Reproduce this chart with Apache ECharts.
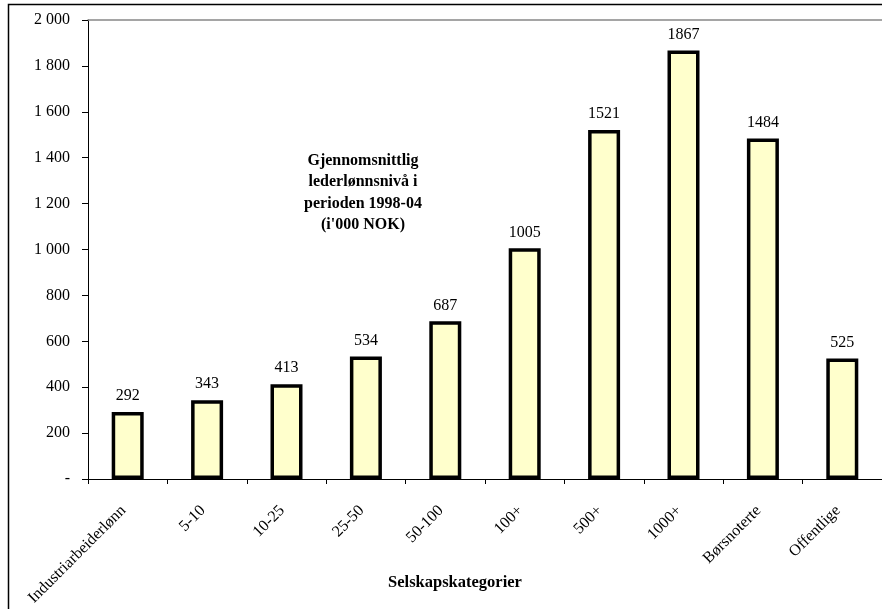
<!DOCTYPE html>
<html>
<head>
<meta charset="utf-8">
<script src="https://cdn.jsdelivr.net/npm/echarts@6/dist/echarts.min.js"></script>
<style>
  html, body { margin: 0; padding: 0; background: #fff; }
  #chart { width: 882px; height: 609px; }
</style>
</head>
<body>
<div id="chart"></div>
<script>
// Selskapskategorier og gjennomsnittlig lederlønn (i'000 NOK)
const categories = ['Industriarbeiderlønn', '5-10', '10-25', '25-50', '50-100', '100+', '500+', '1000+', 'Børsnoterte', 'Offentlige'];
const values = [292, 343, 413, 534, 687, 1005, 1521, 1867, 1484, 525];
const yTicks = { min: 0, max: 2000, interval: 200 };
const noteLines = ['Gjennomsnittlig', 'lederlønnsnivå i', 'perioden 1998-04', "(i'000 NOK)"];
const axisTitle = 'Selskapskategorier';

const serif = '"Liberation Serif", "Times New Roman", serif';

function fmtThousands(v) {
  if (v === 0) return '-';
  return String(v).replace(/\B(?=(\d{3})+(?!\d))/g, ' ');
}

const chart = echarts.init(document.getElementById('chart'), null, { renderer: 'canvas' });

chart.setOption({
  backgroundColor: '#fff',
  animation: false,
  textStyle: { fontFamily: serif },
  title: [{
    text: noteLines.join('\n'),
    left: 358,
    top: 145,
    textAlign: 'center',
    textStyle: {
      fontFamily: serif,
      fontWeight: 'bold',
      fontSize: 16,
      lineHeight: 21.5,
      color: '#000'
    }
  }, {
    text: axisTitle,
    left: 450,
    top: 569,
    textAlign: 'center',
    textStyle: {
      fontFamily: serif,
      fontWeight: 'bold',
      fontSize: 16.5,
      color: '#000'
    }
  }],
  graphic: [{
    type: 'rect',
    shape: { x: 8.5, y: 4.5, width: 1000, height: 1000 },
    style: { fill: 'none', stroke: '#000', lineWidth: 1.5 },
    silent: true,
    z: 100
  }],
  grid: { left: 88, top: 20, right: 0, bottom: 130, containLabel: false },
  xAxis: [{
    type: 'category',
    data: categories,
    position: 'bottom',
    axisLine: { lineStyle: { color: '#000', width: 1 } },
    axisTick: { show: true, length: 5, inside: false, lineStyle: { color: '#000' } },
    axisLabel: {
      rotate: 45,
      interval: 0,
      margin: 25,
      padding: [0, 6, 0, 0],
      fontSize: 16,
      fontFamily: serif,
      color: '#000'
    },
    splitLine: { show: false }
  }, {
    type: 'category',
    data: categories,
    position: 'top',
    axisLine: { lineStyle: { color: '#888', width: 1.5 } },
    axisTick: { show: false },
    axisLabel: { show: false },
    splitLine: { show: false }
  }],
  yAxis: {
    type: 'value',
    min: yTicks.min,
    max: yTicks.max,
    interval: yTicks.interval,
    axisLine: { show: true, lineStyle: { color: '#000', width: 1 } },
    axisTick: { show: true, length: 6, lineStyle: { color: '#000' } },
    axisLabel: {
      margin: 18,
      fontSize: 16,
      fontFamily: serif,
      color: '#000',
      formatter: fmtThousands
    },
    splitLine: { show: false }
  },
  series: [{
    type: 'bar',
    data: values,
    xAxisIndex: 0,
    barWidth: 32,
    itemStyle: { color: '#FFFFCC', borderColor: '#000', borderWidth: 3.5 },
    label: {
      show: true,
      position: 'top',
      distance: 8,
      fontSize: 16,
      fontFamily: serif,
      color: '#000'
    }
  }]
});
</script>
</body>
</html>
